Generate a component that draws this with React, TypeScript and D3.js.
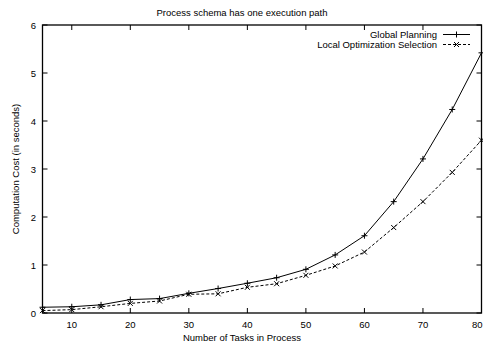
import React from "react";
import * as d3 from "d3";

const tasks = [5, 10, 15, 20, 25, 30, 35, 40, 45, 50, 55, 60, 65, 70, 75, 80];
const globalPlanning = [0.12, 0.13, 0.17, 0.28, 0.3, 0.41, 0.51, 0.62, 0.735, 0.91, 1.21, 1.61, 2.32, 3.21, 4.24, 5.42];
const localSelection = [0.05, 0.07, 0.13, 0.2, 0.25, 0.39, 0.4, 0.535, 0.61, 0.785, 0.98, 1.27, 1.78, 2.32, 2.93, 3.6];
const xTicks = [10, 20, 30, 40, 50, 60, 70, 80];
const yTicks = [0, 1, 2, 3, 4, 5, 6];

const W = 483;
const H = 345;
const left = 42.5;
const right = 481.5;
const top = 25;
const bottom = 313;
const font = "'Liberation Sans', Arial, Helvetica, sans-serif";

export default function App() {
  const x = d3.scaleLinear().domain([5, 80]).range([left, right]);
  const y = d3.scaleLinear().domain([0, 6]).range([bottom, top]);
  const line = d3
    .line<number>()
    .x((_, i) => x(tasks[i]))
    .y((d) => y(d));

  const plus = (cx: number, cy: number, s = 3) => `M${cx - s},${cy}H${cx + s}M${cx},${cy - s}V${cy + s}`;
  const cross = (cx: number, cy: number, s = 2.5) =>
    `M${cx - s},${cy - s}L${cx + s},${cy + s}M${cx - s},${cy + s}L${cx + s},${cy - s}`;

  const tickLen = 5;

  return (
    <svg
      width={W}
      height={H}
      style={{ position: "absolute", left: 0, top: 0, background: "#fff" }}
      fontFamily={font}
    >
      <text x={242} y={16} fontSize={9.5} textAnchor="middle" fill="#000">
        Process schema has one execution path
      </text>

      {/* ticks on all four sides, pointing inward */}
      {xTicks.map((t, i) => {
        const last = i === xTicks.length - 1;
        return (
          <g key={"xt" + t}>
            <line x1={x(t)} x2={x(t)} y1={bottom} y2={bottom - tickLen} stroke="#000" strokeWidth={1} />
            <line x1={x(t)} x2={x(t)} y1={top} y2={top + tickLen} stroke="#000" strokeWidth={1} />
            <text
              x={last ? W - 0.5 : x(t)}
              y={328}
              fontSize={9.5}
              textAnchor={last ? "end" : "middle"}
              fill="#000"
            >
              {t}
            </text>
          </g>
        );
      })}
      {yTicks.map((t) => (
        <g key={"yt" + t}>
          <line x1={left} x2={left + tickLen} y1={y(t)} y2={y(t)} stroke="#000" strokeWidth={1} />
          <line x1={right} x2={right - tickLen} y1={y(t)} y2={y(t)} stroke="#000" strokeWidth={1} />
          <text x={36} y={y(t) + 3.5} fontSize={9.5} textAnchor="end" fill="#000">
            {t}
          </text>
        </g>
      ))}

      <rect x={left} y={top} width={right - left} height={bottom - top} fill="none" stroke="#000" strokeWidth={1.3} />

      <text x={242} y={341} fontSize={9.5} textAnchor="middle" fill="#000">
        Number of Tasks in Process
      </text>
      <text
        transform={`translate(19,${(top + bottom) / 2}) rotate(-90)`}
        fontSize={9.5}
        textAnchor="middle"
        fill="#000"
      >
        Computation Cost (in seconds)
      </text>

      {/* series */}
      <path d={line(globalPlanning) ?? ""} fill="none" stroke="#000" strokeWidth={1} />
      {globalPlanning.map((v, i) => (
        <path key={"gp" + i} d={plus(x(tasks[i]), y(v))} stroke="#000" strokeWidth={1} />
      ))}
      <path d={line(localSelection) ?? ""} fill="none" stroke="#000" strokeWidth={1} strokeDasharray="3,2" />
      {localSelection.map((v, i) => (
        <path key={"ls" + i} d={cross(x(tasks[i]), y(v))} stroke="#000" strokeWidth={1} />
      ))}

      {/* legend */}
      <text x={437} y={37.5} fontSize={9.5} textAnchor="end" fill="#000">
        Global Planning
      </text>
      <line x1={443} x2={470} y1={34.5} y2={34.5} stroke="#000" strokeWidth={1} />
      <path d={plus(456.5, 34.5)} stroke="#000" strokeWidth={1} />
      <text x={437} y={47.5} fontSize={9.5} textAnchor="end" fill="#000">
        Local Optimization Selection
      </text>
      <line x1={443} x2={470} y1={44.5} y2={44.5} stroke="#000" strokeWidth={1} strokeDasharray="3,2" />
      <path d={cross(456.5, 44.5)} stroke="#000" strokeWidth={1} />
    </svg>
  );
}
